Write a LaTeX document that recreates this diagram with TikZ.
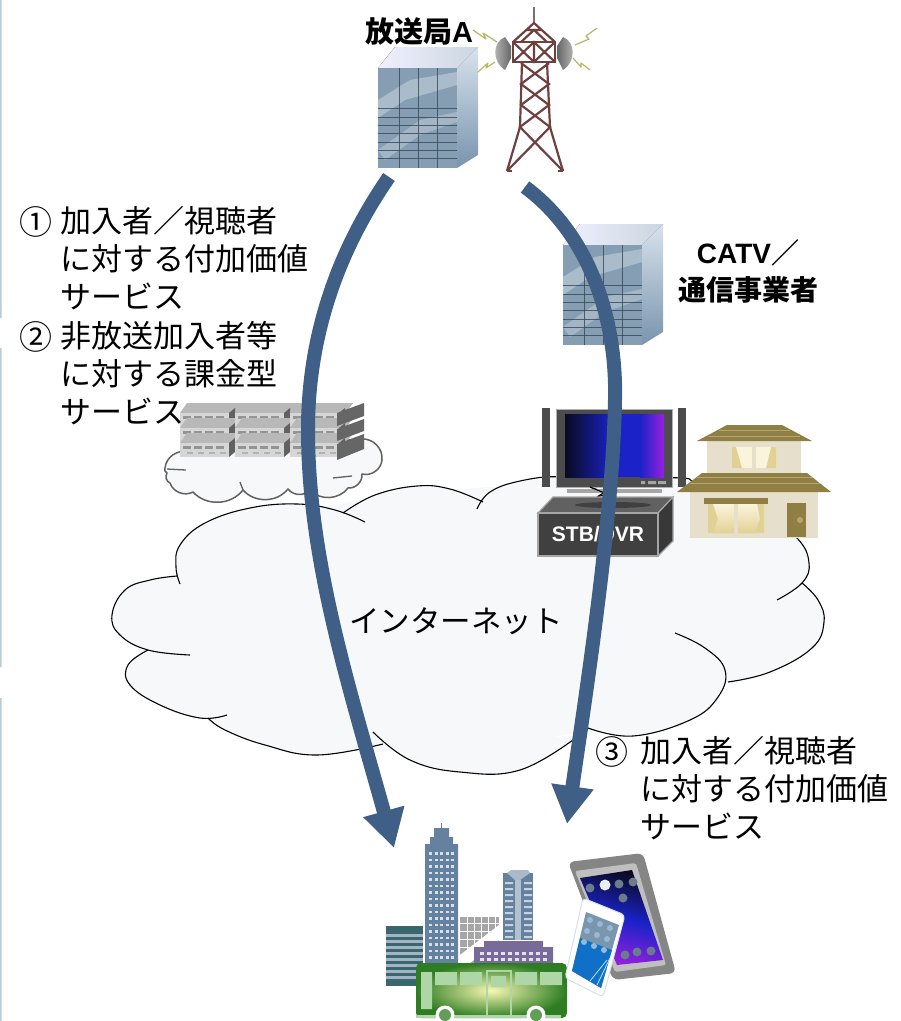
\documentclass[tikz,border=0pt]{standalone}
\usepackage{fontspec}
\setmainfont{Noto Sans CJK JP}
\newfontfamily\latinbold[BoldFont={Liberation Sans Bold}]{Liberation Sans}
\usetikzlibrary{arrows.meta}
\definecolor{arrowblue}{HTML}{3F5F87}
\definecolor{cloudfill}{HTML}{F7F8FA}
\definecolor{stripe}{HTML}{B8CBDC}
\definecolor{towerbrown}{HTML}{6E4040}
\definecolor{roofbrown}{HTML}{8F7F45}
\definecolor{roofstripe}{HTML}{B5A66E}
\definecolor{wallbeige}{HTML}{E6DFCB}
\definecolor{curtain}{HTML}{E2D195}
\definecolor{cream}{HTML}{FBF4DC}
\definecolor{stbfront}{HTML}{404040}
\definecolor{stbedge}{HTML}{A5A5A5}
\definecolor{citysteel}{HTML}{64829F}
\definecolor{cityteal}{HTML}{3A666E}
\definecolor{citypurple}{HTML}{786A99}
\definecolor{busgreen}{HTML}{2E7D22}
\definecolor{buslight}{HTML}{AED6A6}
\definecolor{bolt}{HTML}{B8B566}
\definecolor{screenblack}{HTML}{0A0A20}
\definecolor{screenblue}{HTML}{1A22C8}
\definecolor{screenviolet}{HTML}{9A1FE0}
\definecolor{phoneblue}{HTML}{1070C8}
\tikzset{
  flow/.style={draw=arrowblue,line width=14pt,-{Triangle[length=38pt,width=40pt]}},
  body/.style={inner sep=0pt,align=left,anchor=north west,font=\fontsize{31}{37.8}\selectfont},
  head/.style={inner sep=0pt,align=center,font=\fontsize{28}{37}\selectfont\bfseries},
  num/.style={inner sep=0pt,font=\fontsize{33}{37}\selectfont},
  lobe/.style={draw=black,line width=1.1pt},
  lobefill/.style={fill=cloudfill,draw=none},
  small/.style={draw=black!62,line width=1.5pt,fill=cloudfill,line join=round},
  lattice/.style={draw=towerbrown,line width=2.2pt},
  boltline/.style={draw=bolt,line width=1.2pt,line join=round},
  gridd/.style={draw=black!45!citysteel,line width=1pt,opacity=.8}
}
\newcommand{\officetower}[2]{%
  \begin{scope}[shift={(#1,#2)}]
    \fill[left color=white!85!blue!40,right color=black!8!stripe!60] (378,68) -- (395,47) -- (478,47) -- (457,68) -- cycle;
    \shade[top color=stripe!55,bottom color=stripe!25!citysteel] (457,68) -- (478,47) -- (478,155) -- (457,168) -- cycle;
    \fill[citysteel!78] (378,68) rectangle (457,168);
    \fill[white,opacity=.3] (378,100) -- (410,80) -- (457,72) -- (457,85) -- (405,100) -- (378,118) -- cycle;
    \fill[white,opacity=.25] (378,150) -- (420,120) -- (457,112) -- (457,122) -- (420,135) -- (385,160) -- cycle;
    \foreach \gx in {399,418,437} {\draw[gridd] (\gx,68) -- (\gx,168);}
    \foreach \gy in {108,117,125,133,142,150,158} {\draw[gridd] (378,\gy) -- (457,\gy);}
  \end{scope}}
\newcommand{\cloudlobes}[1]{%
  \path[#1] plot[smooth,tension=.7] coordinates {(180,584)(176,567)(180,545)(205,523)(250,508)(297,504)(335,510)(365,522)};
  \path[#1] plot[smooth,tension=.7] coordinates {(343,513)(375,495)(417,486)(450,489)(483,502)};
  \path[#1] plot[smooth,tension=.7] coordinates {(477,509)(490,492)(520,481)(560,477)(590,487)(607,494)};
  \path[#1] plot[smooth,tension=.7] coordinates {(597,497)(630,482)(683,478)(700,486)(760,505)};
  \path[#1] plot[smooth,tension=.7] coordinates {(760,510)(797,538)(809,563)(802,583)(777,600)};
  \path[#1] plot[smooth,tension=.7] coordinates {(802,583)(818,600)(824,622)(812,648)(770,672)(728,682)};
  \path[#1] plot[smooth,tension=.7] coordinates {(675,633)(705,648)(725,670)(718,697)(690,720)(633,736)(588,728)};
  \path[#1] plot[smooth,tension=.7] coordinates {(373,732)(410,760)(460,772)(520,770)(577,737)};
  \path[#1] plot[smooth,tension=.7] coordinates {(383,744)(317,755)(265,745)(225,730)(208,718)};
  \path[#1] plot[smooth,tension=.7] coordinates {(227,715)(200,718)(160,705)(130,685)(128,665)(148,650)};
  \path[#1] plot[smooth,tension=.7] coordinates {(190,655)(148,650)(120,635)(112,615)(125,590)(150,580)(177,576)};
}
\begin{document}
\begin{tikzpicture}[x=1pt,y=-1pt]
\useasboundingbox (0,0) rectangle (901,1021);
% margin rules
\fill[stripe] (0,0) rectangle (1.6,318) (0,348) rectangle (1.6,667) (0,698) rectangle (1.6,1021);
% big cloud
\fill[cloudfill] (180,584) -- (297,510) -- (417,492) -- (560,482) -- (683,484) -- (780,540) -- (800,622) -- (735,678) -- (640,720) -- (460,755) -- (317,747) -- (212,718) -- (150,660) -- (130,612) -- cycle;
\cloudlobes{lobefill}
\cloudlobes{lobe}
% small cloud
\draw[small,bend angle=50] (165,468) to[bend left] (188,452) -- (362,439) to[bend left] (382,460) to[bend left] (362,474) to[bend left] (348,488) to[bend left] (310,490) to[bend left] (288,489) to[bend left] (243,490) to[bend left] (193,492) to[bend left] (170,483) to[bend left] (167,473) to[bend left] cycle;
\draw[draw=black!62,line width=1.3pt] (167,469) -- (186,470) (333,478) -- (352,476) (243,490) -- (240,482);
% servers
\foreach \sx in {0,55,110} {
  \foreach \sy in {0,15,30} {
    \fill[black!28] (180+\sx,413+\sy) -- (187+\sx,403+\sy) -- (243+\sx,403+\sy) -- (236+\sx,413+\sy) -- cycle;
    \fill[black!16] (180+\sx,413+\sy) rectangle (229+\sx,427+\sy);
    \foreach \wx in {3,14,25,36} {
      \fill[black!42] (180+\sx+\wx,416+\sy) rectangle (188+\sx+\wx,419+\sy);
      \fill[black!30] (184+\sx+\wx,422+\sy) rectangle (190+\sx+\wx,424+\sy);
    }
    \fill[black!62] (229+\sx,413+\sy) -- (235+\sx,408+\sy) -- (235+\sx,422+\sy) -- (229+\sx,427+\sy) -- cycle;
  }
}
\fill[black!60] (337,413) -- (364,403) -- (364,416) -- (337,426) -- cycle;
\fill[black!60] (337,429) -- (364,419) -- (364,431) -- (337,441) -- cycle;
\fill[black!60] (337,444) -- (364,434) -- (364,449) -- (337,460) -- cycle;
% office towers
\officetower{0}{0}
\officetower{185}{177}
% radio tower
\draw[lattice,draw=towerbrown!70!black!70] (534,7) -- (534,23);
\draw[lattice] (513,42) -- (534,23) -- (555,42) (521,42) -- (534,30) -- (547,42) (527,30) -- (541,30);
\draw[lattice,fill=white] (513,42) rectangle (555,62);
\draw[lattice] (513,42) -- (534,62) -- (555,42) (513,62) -- (534,42) -- (555,62) (534,42) -- (534,62);
\draw[lattice] (522,62) -- (520,127) -- (507,171) (547,62) -- (550,127) -- (563,171);
\draw[lattice] (521,63) -- (549,84) -- (521,105) -- (550,127) -- (507,171);
\draw[lattice] (549,63) -- (521,84) -- (549,105) -- (520,127) -- (563,171);
\draw[lattice] (507,171) -- (512,171) (558,171) -- (563,171);
% dishes
\shade[left color=black!25,right color=black!60] (505,37) .. controls (492,42) and (492,62) .. (505,70) -- (511,58) -- (511,46) -- cycle;
\shade[left color=black!60,right color=black!25] (563,37) .. controls (576,42) and (576,62) .. (563,70) -- (557,58) -- (557,46) -- cycle;
% bolts
\draw[boltline] (473,30) -- (486,39) -- (483,33) -- (497,42);
\draw[boltline] (478,72) -- (488,63) -- (486,68) -- (495,62);
\draw[boltline] (597,28) -- (586,36) -- (589,39) -- (575,45);
\draw[boltline] (590,70) -- (581,63) -- (581,67) -- (573,58);
% TV
\fill[black!70] (542,408) rectangle (550,487);
\fill[black!70] (678,408) rectangle (686,487);
\draw[draw=black!30,fill=black!70,line width=1pt] (556,409) rectangle (672,487);
\fill[black!35] (567,489) rectangle (662,493);
\shade[left color=screenblack,right color=screenblue] (565,414) rectangle (612,477);
\fill[screenblue] (612,414) rectangle (640,477);
\shade[left color=screenblue,right color=screenviolet] (640,414) rectangle (664,477);
\fill[black!35] (641,481) rectangle (645,484) (648,481) rectangle (656,484) (658,481) rectangle (666,484);
% cloud tail in front of the stand
\draw[line width=1.1pt] (590,487) -- (607,494) (597,497) -- (607,494);
% STB
\draw[draw=stbedge,fill=black!62,line width=1.2pt] (538,513) -- (553,497) -- (673,497) -- (658,513) -- cycle;
\draw[draw=stbedge,fill=black!78,line width=1.2pt] (658,513) -- (673,497) -- (673,541) -- (658,556) -- cycle;
\fill[black!75] (613,505) ellipse (38 and 3);
\node[draw=stbedge,fill=stbfront,line width=1.2pt,minimum width=120pt,minimum height=43pt,inner sep=0pt,text=white,font=\latinbold\fontsize{21}{24}\selectfont\bfseries] (stb) at (598,534.5) {STB/DVR};
% house
\fill[wallbeige] (707,441) rectangle (801,473);
\fill[roofbrown] (727,425) -- (782,425) -- (812,441) -- (697,441) -- cycle;
\draw[roofstripe,line width=1pt] (719,430) -- (790,430) (709,436) -- (800,436);
\fill[curtain] (732,447) rectangle (752,468) (756,447) rectangle (776,468);
\fill[cream] (736,447) -- (752,447) -- (752,468) -- (742,468) -- cycle;
\fill[cream] (756,447) -- (771,447) -- (766,468) -- (756,468) -- cycle;
\fill[wallbeige] (690,492) rectangle (818,538);
\fill[roofbrown] (702,473) -- (807,473) -- (831,492) -- (677,492) -- cycle;
\draw[roofstripe,line width=1pt] (697,477) -- (812,477) (690,483) -- (820,483);
\fill[roofbrown] (704,498) rectangle (768,504);
\fill[curtain] (708,504) rectangle (734,533) (738,504) rectangle (764,533);
\shade[top color=cream,bottom color=curtain] (713,504) -- (734,504) -- (734,533) -- (713,533) -- (718,519) -- cycle;
\shade[top color=cream,bottom color=curtain] (738,504) -- (757,504) -- (760,519) -- (755,533) -- (738,533) -- cycle;
\fill[roofbrown] (787,503) rectangle (806,537);
\fill[roofstripe] (800,520) circle (3);
% city: left block
\fill[cityteal] (386,926) rectangle (423,986);
\foreach \ry in {934,940,946,952,958,964,970,976} {\fill[citysteel!60!white] (386,\ry) rectangle (423,\ry+3);}
% tall tower
\fill[citysteel] (434,828) rectangle (449,837) (430,837) rectangle (453,844) (425,844) rectangle (458,967);
\draw[citysteel,line width=1pt] (441,823) -- (441,830);
\foreach \wy in {852,858.5,...,962} {\foreach \wx in {429,434.5,440,445.5,451} {\fill[white!75!citysteel] (\wx,\wy) rectangle (\wx+3,\wy+2.5);}}
% gray grid block
\fill[black!35] (460,917) rectangle (499,963);
\fill[white] (460,955) -- (499,925) -- (499,940) -- (470,963) -- (460,963) -- cycle;
\foreach \gx in {467,474,481,488,495} {\draw[white,line width=.7pt] (\gx,917) -- (\gx,963);}
\foreach \gy in {923,931,939,947,955} {\draw[white,line width=.7pt] (460,\gy) -- (499,\gy);}
% right tower
\fill[citysteel] (503,873) rectangle (533,940);
\fill[citysteel!55!white] (507,873) -- (511,870) -- (528,870) -- (530,873) -- (520,880) -- (515,880) -- cycle;
\fill[citysteel!50!white] (515,880) rectangle (521,940);
\foreach \ry in {882,888,...,936} {\fill[white!65!citysteel] (505,\ry) rectangle (513,\ry+2) (524,\ry) rectangle (532,\ry+2);}
% purple block
\fill[citypurple] (484,941) rectangle (543,947) (474,947) rectangle (553,965);
\foreach \wy in {952,958} {\foreach \wx in {480,487,...,546} {\fill[white!80!citypurple] (\wx,\wy) rectangle (\wx+4,\wy+3);}}
% bus
\shade[inner color=black!10!yellow!30!white,outer color=busgreen,rounded corners=5pt] (416,963) rectangle (567,1018);
\fill[buslight] (416,1015) rectangle (561,1018);
\fill[buslight] (421,972) rectangle (432,1009) (435,972) rectangle (457,985) (460,972) rectangle (482,985) (491,976) rectangle (506,987) (515,972) rectangle (537,985) (540,972) rectangle (562,985);
\draw[buslight,line width=1.4pt] (487,1018) -- (487,971) -- (511,971) -- (511,1018);
\foreach \wc in {445,536} {\fill[white] (\wc,1015) circle (9.5); \fill[busgreen!75!white] (\wc,1015) circle (6);}
% tablet
\fill[black!48,rounded corners=6pt] (568,862) -- (643,853) -- (676,973) -- (613,980) -- cycle;
\fill[black!25!white,rounded corners=2pt] (575,871) -- (636,863) -- (666,965) -- (615,972) -- cycle;
\shade[left color=screenblack,right color=screenviolet,middle color=screenblue,shading angle=-15] (580,878) -- (632,870) -- (663,960) -- (617,965) -- cycle;
\foreach \ix/\iy in {590/888,605/885,619/884,633/882,623/898,625/955,637/952,651/951} {\fill[citysteel!70!black!80] (\ix,\iy) circle (4.5);}
\fill[white!70!stripe] (605,885) circle (5.5);
% phone
\fill[white,rounded corners=4pt] (583,898) -- (625,915) -- (603,997) -- (565,978) -- cycle;
\draw[stripe!60,line width=1pt,rounded corners=4pt] (583,898) -- (625,915) -- (603,997) -- (565,978) -- cycle;
\fill[citysteel!85] (586,912) -- (619,925) -- (601,988) -- (572,971) -- cycle;
\fill[phoneblue] (580,938) -- (612,950) -- (601,988) -- (572,971) -- cycle;
\foreach \ix/\iy in {590/920,600/924,610/928,587/931,597/935,607/939,584/942,594/946,604/950} {\fill[stripe!80!phoneblue] (\ix,\iy) circle (3);}
\draw[white!70!cyan,line width=.8pt] (597,985) -- (610,958) (590,981) -- (607,960);
% connectors
\coordinate (aStart) at (389,177);
\coordinate (aEnd) at (394,848);
\coordinate (bStart) at (525,187);
\coordinate (bEnd) at (567,824);
\draw[flow] (aStart) .. controls (335,255) and (308,340) .. (308,430) .. controls (308,560) and (350,690) .. (aEnd);
\draw[flow] (bStart) .. controls (590,235) and (617,320) .. (615,400) .. controls (613,520) and (585,700) .. (bEnd);
% texts
\node[head,anchor=west,font=\fontsize{29}{37}\selectfont\bfseries] (stationA) at (365,32) {放送局\latinbold\bfseries A};
\node[head,anchor=center] (catv) at (748,271) {{\latinbold\bfseries CATV}／\\通信事業者};
\node[num,anchor=west] (n1) at (19,222) {①};
\node[body] (t1) at (60,206) {加入者／視聴者\\に対する付加価値\\サービス};
\node[num,anchor=west] (n2) at (19,337) {②};
\node[body] (t2) at (60,321) {非放送加入者等\\に対する課金型\\サービス};
\node[num,anchor=west] (n3) at (595,752) {③};
\node[body] (t3) at (640,736) {加入者／視聴者\\に対する付加価値\\サービス};
\node[inner sep=0pt,anchor=west,font=\fontsize{30.5}{36}\selectfont] (net) at (349,621) {インターネット};
\end{tikzpicture}
\end{document}
